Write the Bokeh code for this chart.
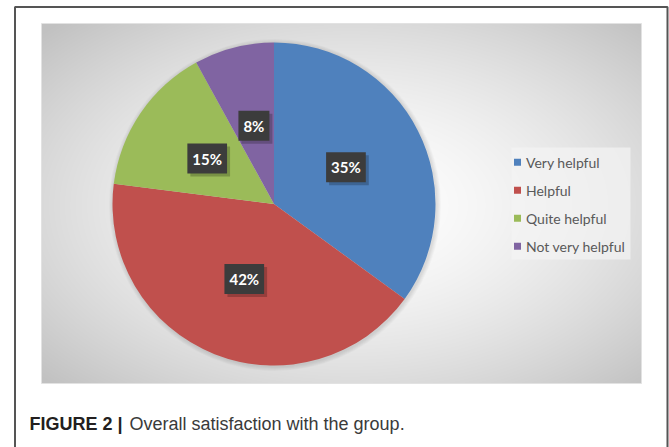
import numpy as np
from bokeh.plotting import figure
from bokeh.models import Range1d, ColumnDataSource
from bokeh.core.properties import value
from bokeh.embed import file_html
from bokeh.resources import INLINE

# ---- data ----
categories = ["Very helpful", "Helpful", "Quite helpful", "Not very helpful"]
percent = [35, 42, 15, 8]
colors = ["#4F81BD", "#C0504D", "#9BBB59", "#8064A2"]
caption_bold = "FIGURE 2 |"
caption_text = "Overall satisfaction with the group."

W, H = 669, 447


def X(px):
    return px


def Y(py):
    return H - py


p = figure(width=W, height=H, x_range=Range1d(0, W), y_range=Range1d(0, H),
           output_backend="svg", toolbar_location=None, min_border=0,
           x_axis_location=None, y_axis_location=None)
p.grid.visible = False
p.outline_line_color = None
p.background_fill_color = "white"
p.border_fill_color = "white"

# ---- chart-area radial gradient background ----
gx0, gx1, gy0, gy1 = 41, 641, 23, 383
gw, gh = gx1 - gx0, gy1 - gy0
xs = np.arange(gw) + 0.5 + gx0
ys = gy1 - (np.arange(gh) + 0.5)
XX, YY = np.meshgrid(xs, ys)
d = np.sqrt(((XX - 350) / 300) ** 2 + ((YY - 205) / 180) ** 2)
v = (255 - 62 * np.clip(d / 1.414, 0, 1) ** 1.6).astype(np.uint8)
img = np.empty((gh, gw), dtype=np.uint32)
view = img.view(dtype=np.uint8).reshape((gh, gw, 4))
view[..., 0] = v
view[..., 1] = v
view[..., 2] = v
view[..., 3] = 255
p.image_rgba(image=[img], x=X(gx0), y=Y(gy1), dw=gw, dh=gh)
p.quad(left=X(gx0), right=X(gx1), bottom=Y(gy1), top=Y(gy0),
       fill_color=None, line_color="#e2e2e2", line_width=1)

# ---- pie ----
cx, cy, R = X(273.5), Y(203.5), 161.5
frac = np.array(percent, dtype=float) / sum(percent)
cum = np.concatenate([[0.0], np.cumsum(frac)])
start = np.pi / 2 - 2 * np.pi * cum[:-1]
end = np.pi / 2 - 2 * np.pi * cum[1:]
mid = (start + end) / 2

for k in range(1, 6):
    p.circle(x=cx + 1, y=cy - 1, radius=R + k * 0.9, fill_color="black",
             fill_alpha=0.025, line_color=None)

src = ColumnDataSource(dict(start=start, end=end, color=colors, cat=categories))
p.wedge(x=cx, y=cy, radius=R, start_angle="start", end_angle="end",
        direction="clock", fill_color="color", line_color=None, source=src)

lab = ColumnDataSource(dict(
    x=cx + 0.5 * R * np.cos(mid),
    y=cy + 0.5 * R * np.sin(mid),
    text=[f"{v}%" for v in percent],
))
pad = dict(left=5, right=5, top=6, bottom=6)
# label shadows
p.text(x="x", y="y", text="text", source=lab, x_offset=3, y_offset=3,
       text_font=value("Lato"), text_font_style="bold", text_font_size="15px",
       text_alpha=0, text_align="center", text_baseline="middle",
       background_fill_color="black", background_fill_alpha=0.22, padding=pad)
p.text(x="x", y="y", text="text", source=lab,
       text_font=value("Lato"), text_font_style="bold", text_font_size="15px",
       text_color="white", text_align="center", text_baseline="middle",
       background_fill_color="#3c3c3c", padding=pad)

# ---- legend ----
p.quad(left=X(511), right=X(630), bottom=Y(259), top=Y(147),
       fill_color="#f4f4f4", fill_alpha=0.7, line_color=None)
leg_y = [Y(161.7 + 28 * i) for i in range(len(categories))]
leg = ColumnDataSource(dict(y=leg_y, cat=categories, color=colors))
p.scatter(x=X(517), y="y", marker="square", size=7, fill_color="color",
          line_color=None, source=leg)
p.text(x=X(525.5), y="y", text="cat", source=leg, text_font=value("Lato"),
       text_font_size="14px", text_color="#595959", text_baseline="middle")

# ---- caption ----
p.text(x=[X(29)], y=[Y(423)], text=[caption_bold], text_font=value("Liberation Sans"),
       text_font_style="bold", text_font_size="18px", text_color="#231f20",
       text_baseline="middle")
p.text(x=[X(129)], y=[Y(423)], text=[caption_text], text_font=value("Liberation Sans"),
       text_font_size="18px", text_color="#3a3a3a", text_baseline="middle")

# ---- outer frame ----
p.line(x=[X(14.5), X(14.5), X(667), X(667)], y=[0, Y(6.5), Y(6.5), 0],
       line_color="#555555", line_width=2)

open("out.html", "w").write(file_html(p, INLINE))
